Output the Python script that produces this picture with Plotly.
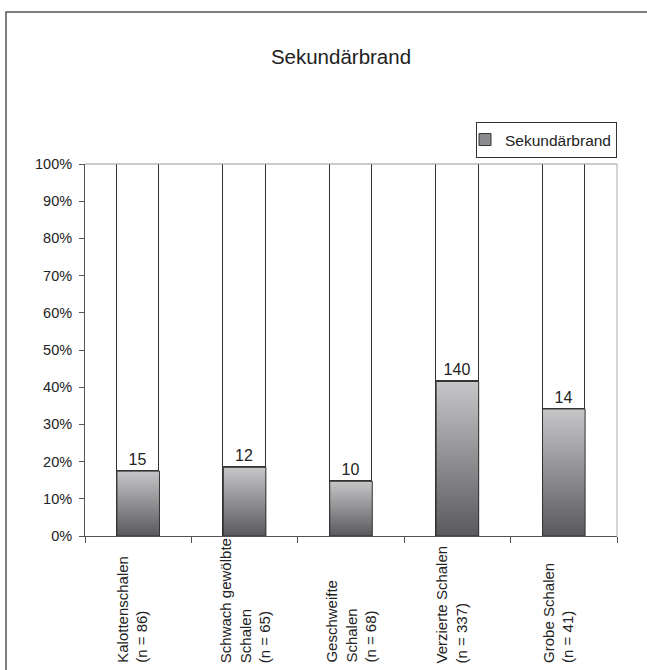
import plotly.graph_objects as go

categories = ["Kalottenschalen<br>(n = 86)",
              "Schwach gewölbte<br>Schalen<br>(n = 65)",
              "Geschweifte<br>Schalen<br>(n = 68)",
              "Verzierte Schalen<br>(n = 337)",
              "Grobe Schalen<br>(n = 41)"]
totals = [86, 65, 68, 337, 41]
counts = [15, 12, 10, 140, 14]
y_ticks = [0, 10, 20, 30, 40, 50, 60, 70, 80, 90, 100]
y_tick_labels = [f"{v}%" for v in y_ticks]

pct = [c / t * 100 for c, t in zip(counts, totals)]
rest = [100 - p for p in pct]
xs = list(range(len(categories)))
BW = 0.4
FONT = "Liberation Sans, Arial, sans-serif"

fig = go.Figure()
fig.add_trace(go.Bar(x=xs, y=pct, width=BW, name="Sekundärbrand",
                     marker=dict(color="#8c8c90", line=dict(color="#333333", width=1)),
                     hoverinfo="skip"))
fig.add_trace(go.Bar(x=xs, y=rest, width=BW, showlegend=False,
                     marker=dict(color="white", line=dict(color="#333333", width=1)),
                     text=[str(c) for c in counts], textposition="inside",
                     insidetextanchor="start",
                     textfont=dict(size=16, color="#222222", family=FONT),
                     hoverinfo="skip"))
# gradient fill of the lower segments
for x, p in zip(xs, pct):
    fig.add_trace(go.Scatter(
        x=[x - BW / 2, x + BW / 2, x + BW / 2, x - BW / 2, x - BW / 2],
        y=[0, 0, p, p, 0], mode="lines", fill="toself",
        fillgradient=dict(type="vertical", colorscale=[[0, "#5a5a5e"], [1, "#c6c6c8"]]),
        line=dict(color="#333333", width=1), showlegend=False, hoverinfo="skip"))

# category labels
for x, lab in zip(xs, categories):
    nlines = lab.count("<br>") + 1
    fig.add_annotation(x=x, y=-0.347, xref="x", yref="paper", text=lab,
                       textangle=-90, showarrow=False, align="left",
                       xanchor="center", yanchor="bottom",
                       xshift=-6 if nlines == 2 else 0,
                       font=dict(size=15, color="#222222", family=FONT))

# outer frame
fig.add_shape(type="rect", xref="paper", yref="paper", x0=-0.1485, x1=1.07,
              y0=-0.38, y1=1.4086, line=dict(color="#555555", width=1.5))
# plot frame top/right
fig.add_shape(type="line", xref="paper", yref="paper", x0=0, x1=1, y0=1, y1=1,
              line=dict(color="#999999", width=1))
fig.add_shape(type="line", xref="paper", yref="paper", x0=1, x1=1, y0=0, y1=1,
              line=dict(color="#aaaaaa", width=1))

fig.update_layout(
    width=647, height=670,
    margin=dict(l=85, r=30, t=164, b=134),
    paper_bgcolor="white", plot_bgcolor="white",
    barmode="stack", bargap=0,
    font=dict(family=FONT, color="#222222"),
    title=dict(text="Sekundärbrand", x=0.527, y=0.915, xref="container", yref="container",
               xanchor="center", yanchor="middle",
               font=dict(size=20.5, color="#222222", family=FONT)),
    legend=dict(x=1, xanchor="right", y=1.113, yanchor="top",
                bordercolor="#333333", borderwidth=1,
                font=dict(size=15.5, color="#222222", family=FONT),
                itemwidth=30, tracegroupgap=0, indentation=-12),
    xaxis=dict(range=[-0.5, 4.5], tickvals=[-0.5, 0.5, 1.5, 2.5, 3.5, 4.5],
               showticklabels=False, ticks="outside", ticklen=6, tickcolor="#555555",
               showline=True, linecolor="#555555", linewidth=1, showgrid=False,
               zeroline=False, fixedrange=True),
    yaxis=dict(range=[0, 100], tickmode="array", tickvals=y_ticks, ticktext=y_tick_labels,
               ticks="outside", ticklen=5, tickcolor="#555555", ticklabelstandoff=4,
               showline=True, linecolor="#555555", linewidth=1, showgrid=False,
               zeroline=False, tickfont=dict(size=14.5, color="#222222", family=FONT)),
)

fig.write_html("out.html", config={"displayModeBar": False},
               post_script="document.body.style.margin='0px';")
